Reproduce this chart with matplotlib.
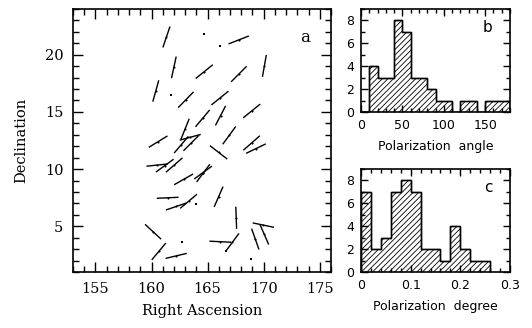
import numpy as np
import matplotlib.pyplot as plt
from matplotlib.ticker import MultipleLocator, FuncFormatter

# polarization vectors: RA, Dec (deg) and position angle (deg, from north towards +RA)
ra = [161.33, 167.77, 161.99, 164.70, 167.79, 170.06, 160.38, 163.06, 166.10, 166.15,
      164.55, 168.93, 160.59, 162.99, 163.45, 162.65, 163.54, 165.98, 166.93, 168.92,
      169.31, 160.51, 161.18, 162.02, 162.86, 164.60, 164.61, 161.44, 162.20, 163.30,
      165.98, 167.55, 160.14, 160.65, 162.20, 166.13, 167.21, 169.25, 170.05, 169.97]
dec = [21.55, 21.29, 18.89, 18.52, 18.31, 19.02, 16.83, 16.06, 16.21, 14.67,
       14.43, 15.08, 12.40, 13.50, 12.78, 12.13, 12.28, 11.46, 12.95, 12.28,
       11.79, 10.35, 10.30, 10.35, 9.10, 9.70, 9.65, 7.49, 6.73, 7.18,
       7.58, 5.74, 4.52, 2.80, 2.41, 3.65, 3.60, 3.88, 4.29, 5.10]
pangle = [19.0, 69.0, 12.5, 51.6, 45.4, 10.3, 15.9, 44.8, 51.5, 28.0,
          40.6, 51.6, 59.0, 22.4, 75.0, 41.0, 45.5, 127.2, 36.8, 49.3,
          64.8, 84.1, 54.6, 49.5, 60.9, 54.5, 37.4, 87.3, 71.5, 50.5,
          24.0, 178.0, 132.2, 40.4, 77.0, 92.7, 37.1, 160.1, 156.0, 101.5]

# stars with negligible polarization (no angle)
ra_zero = [164.70, 166.06, 161.72, 163.98, 162.76, 166.66, 168.87]
dec_zero = [21.84, 20.79, 16.50, 6.94, 3.61, 2.83, 2.10]

# polarization degree histogram
deg_edges = [0.0, 0.02, 0.04, 0.06, 0.08, 0.10, 0.12, 0.14, 0.16, 0.18, 0.20, 0.22, 0.24, 0.26]
deg_counts = [7, 2, 3, 7, 8, 7, 2, 2, 1, 4, 2, 1, 1]

ang_edges = np.arange(0, 190, 10)

plt.rcParams['hatch.linewidth'] = 0.6
serif = 'DejaVu Serif'
sans = 'DejaVu Sans'

fig = plt.figure(figsize=(5.32, 3.28), dpi=100)
ax = fig.add_axes([0.1372, 0.1707, 0.485, 0.802])
axb = fig.add_axes([0.6786, 0.6585, 0.2801, 0.314])
axc = fig.add_axes([0.6786, 0.1707, 0.2801, 0.314])

# vector map
half = 0.97
th = np.radians(pangle)
dx = half * np.sin(th)
dy = half * np.cos(th)
for x, y, a, b in zip(ra, dec, dx, dy):
    ax.plot([x - a, x + a], [y - b, y + b], color='black', lw=1.0, solid_capstyle='butt')
ax.plot(ra, dec, 'o', color='black', ms=1.5, mew=0)
ax.plot(ra_zero, dec_zero, 's', color='black', ms=1.8, mew=0)

ax.set_xlim(153, 176)
ax.set_ylim(1, 24)
ax.xaxis.set_major_locator(MultipleLocator(5))
ax.xaxis.set_minor_locator(MultipleLocator(1))
ax.yaxis.set_major_locator(MultipleLocator(5))
ax.yaxis.set_minor_locator(MultipleLocator(1))
ax.tick_params(which='both', direction='in', top=True, right=True, width=1.0)
ax.tick_params(which='major', length=7)
ax.tick_params(which='minor', length=4)
ax.tick_params(axis='x', pad=7)
ax.tick_params(axis='y', pad=7)
for lab in ax.get_xticklabels() + ax.get_yticklabels():
    lab.set_fontfamily(serif)
    lab.set_fontsize(10.5)
ax.set_xlabel('Right Ascension', family=serif, fontsize=10.5, labelpad=6)
ax.set_ylabel('Declination', family=serif, fontsize=10.5, labelpad=12)
ax.text(0.9, 0.89, 'a', transform=ax.transAxes, family=serif, fontsize=12,
        ha='center', va='center')

# angle histogram
ang_counts, _ = np.histogram(pangle, bins=ang_edges)
axb.stairs(ang_counts, ang_edges, fill=True, facecolor='white', edgecolor='black',
           hatch='//////', lw=1.0)
axb.stairs(ang_counts, ang_edges, color='black', lw=1.0)
axb.set_xlim(0, 180)
axb.set_ylim(0, 9)
axb.xaxis.set_major_locator(MultipleLocator(50))
axb.xaxis.set_minor_locator(MultipleLocator(10))
axb.set_xlabel('Polarization  angle', family=sans, fontsize=9, labelpad=6)
axb.text(0.846, 0.825, 'b', transform=axb.transAxes, family=sans, fontsize=11,
         ha='center', va='center')

# degree histogram
axc.stairs(deg_counts, deg_edges, fill=True, facecolor='white', edgecolor='black',
           hatch='//////', lw=1.0)
axc.stairs(deg_counts, deg_edges, color='black', lw=1.0)
axc.set_xlim(0, 0.3)
axc.set_ylim(0, 9)
axc.xaxis.set_major_locator(MultipleLocator(0.1))
axc.xaxis.set_minor_locator(MultipleLocator(0.02))
axc.xaxis.set_major_formatter(FuncFormatter(lambda v, p: '%g' % round(v, 2)))
axc.set_xlabel('Polarization  degree', family=sans, fontsize=9, labelpad=6)
axc.text(0.852, 0.825, 'c', transform=axc.transAxes, family=sans, fontsize=11,
         ha='center', va='center')

for h in (axb, axc):
    h.yaxis.set_major_locator(MultipleLocator(2))
    h.yaxis.set_minor_locator(MultipleLocator(1))
    h.tick_params(which='both', direction='in', top=True, right=True, width=1.0, pad=5)
    h.tick_params(which='major', length=5)
    h.tick_params(which='minor', length=3)
    for lab in h.get_xticklabels() + h.get_yticklabels():
        lab.set_fontfamily(sans)
        lab.set_fontsize(9)

for a in (ax, axb, axc):
    for s in a.spines.values():
        s.set_linewidth(1.2)

fig.savefig('out.png', dpi=100)
